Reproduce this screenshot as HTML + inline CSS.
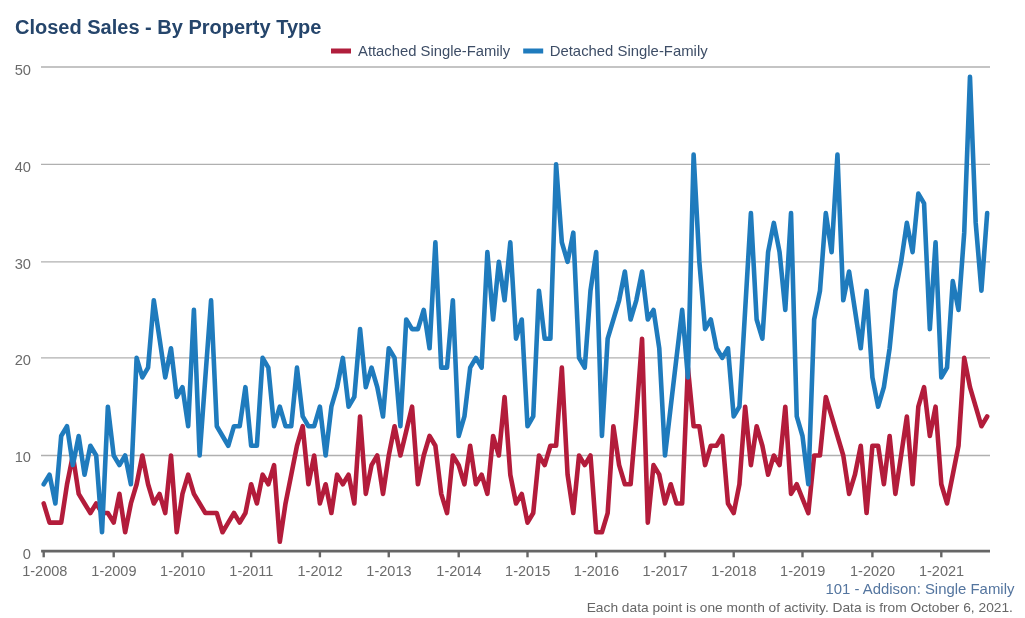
<!DOCTYPE html>
<html><head><meta charset="utf-8"><title>Closed Sales - By Property Type</title>
<style>
html,body{margin:0;padding:0;background:#fff;}
body{width:1025px;height:618px;overflow:hidden;font-family:"Liberation Sans",sans-serif;}
svg{will-change:transform;display:block;font-family:"Liberation Sans",sans-serif;}
</style></head><body>
<svg width="1025" height="618" viewBox="0 0 1025 618">
<rect width="1025" height="618" fill="#ffffff"/>
<text x="15.0" y="33.5" font-size="20" font-weight="bold" fill="#25456b">Closed Sales - By Property Type</text>
<g>
<rect x="331" y="48.5" width="20" height="5" fill="#b01e3c"/>
<text transform="translate(358.0,55.6) scale(1.058,1)" font-size="14" fill="#3d4d66">Attached Single-Family</text>
<rect x="523.2" y="48.5" width="20" height="5" fill="#1f7bbd"/>
<text transform="translate(549.7,55.6) scale(1.064,1)" font-size="14" fill="#3d4d66">Detached Single-Family</text>
</g>
<g>
<line x1="41" x2="990" y1="455.50" y2="455.50" stroke="#b0b0b0" stroke-width="1.3"/>
<line x1="41" x2="990" y1="357.90" y2="357.90" stroke="#b0b0b0" stroke-width="1.3"/>
<line x1="41" x2="990" y1="261.90" y2="261.90" stroke="#b0b0b0" stroke-width="1.3"/>
<line x1="41" x2="990" y1="164.40" y2="164.40" stroke="#b0b0b0" stroke-width="1.3"/>
<line x1="41" x2="990" y1="67.00" y2="67.00" stroke="#b0b0b0" stroke-width="1.3"/>
</g>
<g font-size="14.5" fill="#6b6b6b">
<text transform="translate(31.0,558.80) scale(0.972,1)" font-size="15.1" text-anchor="end">0</text>
<text transform="translate(31.0,462.30) scale(0.972,1)" font-size="15.1" text-anchor="end">10</text>
<text transform="translate(31.0,365.30) scale(0.972,1)" font-size="15.1" text-anchor="end">20</text>
<text transform="translate(31.0,269.30) scale(0.972,1)" font-size="15.1" text-anchor="end">30</text>
<text transform="translate(31.0,172.30) scale(0.972,1)" font-size="15.1" text-anchor="end">40</text>
<text transform="translate(31.0,75.20) scale(0.972,1)" font-size="15.1" text-anchor="end">50</text>
<text transform="translate(44.80,575.6) scale(1.0,1)" text-anchor="middle">1-2008</text>
<text transform="translate(113.90,575.6) scale(1.0,1)" text-anchor="middle">1-2009</text>
<text transform="translate(182.65,575.6) scale(1.0,1)" text-anchor="middle">1-2010</text>
<text transform="translate(251.35,575.6) scale(1.0,1)" text-anchor="middle">1-2011</text>
<text transform="translate(320.10,575.6) scale(1.0,1)" text-anchor="middle">1-2012</text>
<text transform="translate(388.95,575.6) scale(1.0,1)" text-anchor="middle">1-2013</text>
<text transform="translate(458.90,575.6) scale(1.0,1)" text-anchor="middle">1-2014</text>
<text transform="translate(527.70,575.6) scale(1.0,1)" text-anchor="middle">1-2015</text>
<text transform="translate(596.40,575.6) scale(1.0,1)" text-anchor="middle">1-2016</text>
<text transform="translate(665.20,575.6) scale(1.0,1)" text-anchor="middle">1-2017</text>
<text transform="translate(733.90,575.6) scale(1.0,1)" text-anchor="middle">1-2018</text>
<text transform="translate(802.70,575.6) scale(1.0,1)" text-anchor="middle">1-2019</text>
<text transform="translate(872.60,575.6) scale(1.0,1)" text-anchor="middle">1-2020</text>
<text transform="translate(941.50,575.6) scale(1.0,1)" text-anchor="middle">1-2021</text>
</g>
<path d="M43.70,503.45 L49.53,522.63 L55.37,522.63 L61.20,522.63 L67.03,484.27 L72.87,455.50 L78.70,493.86 L84.53,503.45 L90.37,513.04 L96.20,503.45 L102.03,513.04 L107.87,513.04 L113.70,522.63 L119.43,493.86 L125.16,532.22 L130.89,503.45 L136.62,484.27 L142.35,455.50 L148.07,484.27 L153.80,503.45 L159.53,493.86 L165.26,513.04 L170.99,455.50 L176.72,532.22 L182.45,493.86 L188.17,474.68 L193.90,493.86 L199.62,503.45 L205.35,513.04 L211.07,513.04 L216.80,513.04 L222.53,532.22 L228.25,522.63 L233.97,513.04 L239.70,522.63 L245.43,513.04 L251.15,484.27 L256.88,503.45 L262.61,474.68 L268.34,484.27 L274.07,465.09 L279.80,541.81 L285.52,503.45 L291.25,474.68 L296.98,445.74 L302.71,426.22 L308.44,484.27 L314.17,455.50 L319.90,503.45 L325.64,484.27 L331.38,513.04 L337.11,474.68 L342.85,484.27 L348.59,474.68 L354.32,503.45 L360.06,416.46 L365.80,493.86 L371.54,465.09 L377.27,455.50 L383.01,493.86 L388.75,455.50 L394.58,426.22 L400.41,455.50 L406.24,431.10 L412.07,406.70 L417.90,484.27 L423.73,455.50 L429.55,435.98 L435.38,445.74 L441.21,493.86 L447.04,513.04 L452.87,455.50 L458.70,465.09 L464.43,484.27 L470.17,445.74 L475.90,484.27 L481.63,474.68 L487.37,493.86 L493.10,435.98 L498.83,455.50 L504.57,396.94 L510.30,474.68 L516.03,503.45 L521.77,493.86 L527.50,522.63 L533.23,513.04 L538.95,455.50 L544.67,465.09 L550.40,445.74 L556.12,445.74 L561.85,367.66 L567.58,474.68 L573.30,513.04 L579.03,455.50 L584.75,465.09 L590.48,455.50 L596.20,532.22 L601.93,532.22 L607.67,513.04 L613.40,426.22 L619.13,465.09 L624.87,484.27 L630.60,484.27 L636.33,416.46 L642.07,338.70 L647.80,522.63 L653.53,465.09 L659.27,474.68 L665.00,503.45 L670.73,484.27 L676.45,503.45 L682.17,503.45 L687.90,367.66 L693.62,426.22 L699.35,426.22 L705.08,465.09 L710.80,445.74 L716.53,445.74 L722.25,435.98 L727.98,503.45 L733.70,513.04 L739.43,484.27 L745.17,406.70 L750.90,465.09 L756.63,426.22 L762.37,445.74 L768.10,474.68 L773.83,455.50 L779.57,465.09 L785.30,406.70 L791.03,493.86 L796.77,484.27 L802.50,498.65 L808.33,513.04 L814.15,455.50 L819.98,455.50 L825.80,396.94 L831.62,416.46 L837.45,435.98 L843.27,455.50 L849.10,493.86 L854.92,474.68 L860.75,445.74 L866.57,513.04 L872.40,445.74 L878.14,445.74 L883.88,484.27 L889.62,435.98 L895.37,493.86 L901.11,455.50 L906.85,416.46 L912.59,484.27 L918.33,406.70 L924.07,387.18 L929.82,435.98 L935.56,406.70 L941.30,484.27 L947.03,503.45 L952.77,474.68 L958.50,445.74 L964.23,357.90 L969.97,387.18 L975.70,406.70 L981.43,426.22 L987.17,416.46" fill="none" stroke="#b31c3b" stroke-width="4.6" stroke-linejoin="round" stroke-linecap="round"/>
<path d="M43.70,484.27 L49.53,474.68 L55.37,503.45 L61.20,435.98 L67.03,426.22 L72.87,465.09 L78.70,435.98 L84.53,474.68 L90.37,445.74 L96.20,455.50 L102.03,532.22 L107.87,406.70 L113.70,455.50 L119.43,465.09 L125.16,455.50 L130.89,484.27 L136.62,357.90 L142.35,377.42 L148.07,367.66 L153.80,300.30 L159.53,338.70 L165.26,377.42 L170.99,348.30 L176.72,396.94 L182.45,387.18 L188.17,426.22 L193.90,309.90 L199.62,455.50 L205.35,377.42 L211.07,300.30 L216.80,426.22 L222.53,435.98 L228.25,445.74 L233.97,426.22 L239.70,426.22 L245.43,387.18 L251.15,445.74 L256.88,445.74 L262.61,357.90 L268.34,367.66 L274.07,426.22 L279.80,406.70 L285.52,426.22 L291.25,426.22 L296.98,367.66 L302.71,416.46 L308.44,426.22 L314.17,426.22 L319.90,406.70 L325.64,455.50 L331.38,406.70 L337.11,387.18 L342.85,357.90 L348.59,406.70 L354.32,396.94 L360.06,329.10 L365.80,387.18 L371.54,367.66 L377.27,387.18 L383.01,416.46 L388.75,348.30 L394.58,357.90 L400.41,426.22 L406.24,319.50 L412.07,329.10 L417.90,329.10 L423.73,309.90 L429.55,348.30 L435.38,242.40 L441.21,367.66 L447.04,367.66 L452.87,300.30 L458.70,435.98 L464.43,416.46 L470.17,367.66 L475.90,357.90 L481.63,367.66 L487.37,252.15 L493.10,319.50 L498.83,261.90 L504.57,300.30 L510.30,242.40 L516.03,338.70 L521.77,319.50 L527.50,426.22 L533.23,416.46 L538.95,290.70 L544.67,338.70 L550.40,338.70 L556.12,164.40 L561.85,242.40 L567.58,261.90 L573.30,232.65 L579.03,357.90 L584.75,367.66 L590.48,290.70 L596.20,252.15 L601.93,435.98 L607.67,338.70 L613.40,319.50 L619.13,300.30 L624.87,271.50 L630.60,319.50 L636.33,300.30 L642.07,271.50 L647.80,319.50 L653.53,309.90 L659.27,348.30 L665.00,455.50 L670.73,406.70 L676.45,357.90 L682.17,309.90 L687.90,377.42 L693.62,154.66 L699.35,261.90 L705.08,329.10 L710.80,319.50 L716.53,348.30 L722.25,357.90 L727.98,348.30 L733.70,416.46 L739.43,406.70 L745.17,309.90 L750.90,213.15 L756.63,319.50 L762.37,338.70 L768.10,252.15 L773.83,222.90 L779.57,252.15 L785.30,309.90 L791.03,213.15 L796.77,416.46 L802.50,435.98 L808.33,484.27 L814.15,319.50 L819.98,290.70 L825.80,213.15 L831.62,252.15 L837.45,154.66 L843.27,300.30 L849.10,271.50 L854.92,309.90 L860.75,348.30 L866.57,290.70 L872.40,377.42 L878.14,406.70 L883.88,387.18 L889.62,348.30 L895.37,290.70 L901.11,261.90 L906.85,222.90 L912.59,252.15 L918.33,193.65 L924.07,203.40 L929.82,329.10 L935.56,242.40 L941.30,377.42 L947.03,367.66 L952.77,281.10 L958.50,309.90 L964.23,232.65 L969.97,76.74 L975.70,222.90 L981.43,290.70 L987.17,213.15" fill="none" stroke="#1f7bbd" stroke-width="4.6" stroke-linejoin="round" stroke-linecap="round"/>
<line x1="41.1" x2="990" y1="551.15" y2="551.15" stroke="#666" stroke-width="2.6"/>
<line x1="43.70" x2="43.70" y1="551" y2="557.3" stroke="#666" stroke-width="2.4"/>
<line x1="113.70" x2="113.70" y1="551" y2="557.3" stroke="#666" stroke-width="2.4"/>
<line x1="182.45" x2="182.45" y1="551" y2="557.3" stroke="#666" stroke-width="2.4"/>
<line x1="251.15" x2="251.15" y1="551" y2="557.3" stroke="#666" stroke-width="2.4"/>
<line x1="319.90" x2="319.90" y1="551" y2="557.3" stroke="#666" stroke-width="2.4"/>
<line x1="388.75" x2="388.75" y1="551" y2="557.3" stroke="#666" stroke-width="2.4"/>
<line x1="458.70" x2="458.70" y1="551" y2="557.3" stroke="#666" stroke-width="2.4"/>
<line x1="527.50" x2="527.50" y1="551" y2="557.3" stroke="#666" stroke-width="2.4"/>
<line x1="596.20" x2="596.20" y1="551" y2="557.3" stroke="#666" stroke-width="2.4"/>
<line x1="665.00" x2="665.00" y1="551" y2="557.3" stroke="#666" stroke-width="2.4"/>
<line x1="733.70" x2="733.70" y1="551" y2="557.3" stroke="#666" stroke-width="2.4"/>
<line x1="802.50" x2="802.50" y1="551" y2="557.3" stroke="#666" stroke-width="2.4"/>
<line x1="872.40" x2="872.40" y1="551" y2="557.3" stroke="#666" stroke-width="2.4"/>
<line x1="941.30" x2="941.30" y1="551" y2="557.3" stroke="#666" stroke-width="2.4"/>

<text transform="translate(1014.4,593.8) scale(1.066,1)" font-size="14" text-anchor="end" fill="#54759f">101 - Addison: Single Family</text>
<text transform="translate(1012.9,612) scale(1.0585,1)" font-size="13" text-anchor="end" fill="#666">Each data point is one month of activity. Data is from October 6, 2021.</text>
</svg>
</body></html>
